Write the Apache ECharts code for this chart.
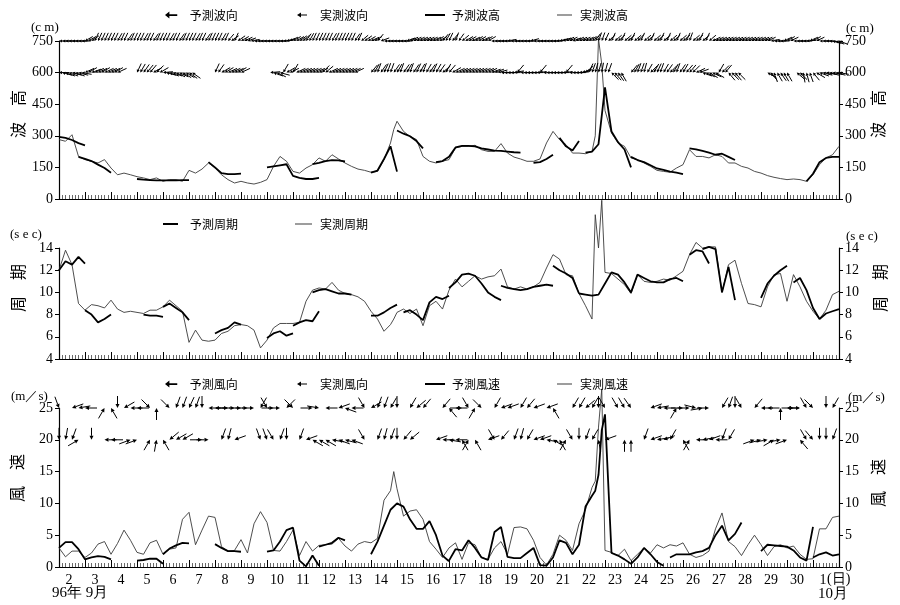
<!DOCTYPE html>
<html><head><meta charset="utf-8">
<script src="https://cdn.jsdelivr.net/npm/echarts/dist/echarts.min.js"></script>
<style>html,body{margin:0;background:#fff}#c{width:900px;height:605px}</style>
</head><body><div id="c"></div>
<script>
// ---- time grid (days since Sept 2 00:00), 6-hourly with a few extra points at sharp peaks
const obsDays = [];
for (let i = 0; i <= 120; i++) {
  const d = i / 4;
  obsDays.push(d);
  if (d === 12.75) obsDays.push(12.875);
  if (d === 20.5) obsDays.push(20.625);
  if (d === 20.75) obsDays.push(20.875);
}
const dayLabels = ['2','3','4','5','6','7','8','9','10','11','12','13','14','15','16','17','18','19','20','21','22','23','24','25','26','27','28','29','30','1'];

// ---- observed wave height (cm)
const waveObs = [
 282,274,305,202, 187,179,171,187, 147,115,123,115, 106,100,92,100, 84,92,92,84,
 136,123,142,171, 147,115,92,76, 84,76,71,79, 92,155,202,179, 131,123,147,163,
 195,179,210,190, 171,155,142,136, 127,131,187,266,330, 369,321,297,282, 202,179,171,179,
 187,242,250,250, 255,234,226,226, 263,218,199,190, 179,179,190,266, 321,282,258,218,
 218,215,225,300,760,640, 420,313,266,250, 195,187,171,155, 136,131,127,147, 163,234,202,202,
 195,210,202,171, 171,155,147,131, 123,111,103,97, 92,95,92,84, 115,163,195,210, 250
];
// ---- observed period (sec)
const periodObs = [
 12.0,13.8,12.5,9.0, 8.4,8.9,8.8,8.6, 9.3,8.5,8.2,8.3, 8.2,8.1,8.4,8.4, 8.7,9.3,8.8,8.3,
 5.5,6.6,5.7,5.6, 5.7,6.3,6.5,7.0, 7.1,7.0,6.6,5.0, 5.7,6.8,7.2,7.2, 7.2,7.3,9.2,10.2,
 10.4,10.3,10.9,10.2, 9.9,9.8,9.6,9.2, 8.3,7.6,6.5,7.1,7.6, 8.2,8.5,8.1,8.5, 7.0,8.8,9.2,8.5,
 10.2,11.2,10.5,11.0, 11.5,11.2,11.4,11.5, 12.1,10.5,10.3,10.5, 10.3,10.5,10.9,12.2, 13.4,13.0,11.6,11.5,
 9.9,8.8,7.6,17.0,14.0,18.3, 11.8,11.7,11.2,10.7, 9.9,11.6,11.0,10.9, 11.0,11.2,11.1,11.5, 11.9,13.4,14.5,14.0,
 14.1,14.1,10.0,12.5, 12.9,10.8,9.0,8.9, 8.7,10.5,11.6,11.7, 9.2,11.6,10.5,9.2, 8.3,7.6,8.4,9.8, 10.1
];
// ---- observed wind speed (m/s)
const windObs = [
 3.0,1.6,2.5,2.5, 1.5,2.2,3.6,4.0, 2.0,3.7,5.8,4.2, 2.3,2.0,3.8,4.2, 2.0,2.8,3.0,7.5,
 8.6,3.5,5.8,8.0, 7.8,3.2,2.5,2.6, 4.3,2.2,6.8,8.7, 7.0,2.6,2.5,4.0, 5.8,1.8,4.0,2.5,
 3.4,3.5,3.6,4.5, 3.3,2.5,3.6,4.0, 3.8,4.5,10.5,12.0,15.0, 12.3,8.0,8.8,9.0, 7.5,4.0,2.8,1.5,
 3.0,3.8,1.2,3.8, 3.5,1.5,1.2,3.0, 4.0,2.0,6.2,6.3, 6.0,4.2,1.5,0.3, 2.0,5.0,4.2,2.6,
 6.8,9.0,12.5,13.5,22.0,28.0, 2.6,2.3,1.8,2.8, 1.0,2.0,3.0,2.2, 3.5,3.0,3.5,3.3, 3.8,2.0,1.5,1.8,
 2.5,6.0,8.5,4.0, 3.2,1.8,3.5,5.0, 3.5,1.8,3.2,3.5, 3.0,3.3,2.0,1.2, 1.3,6.0,6.0,7.8, 8.0
];

// ---- forecast runs: start day, values every 6 h (st = other step)
const waveFcst = [
 {s:0, v:[295,290,280,265,255]},
 {s:0.75, v:[200,190,180,163,147,125]},
 {s:3.0, v:[95,92,90,88,88,88,88,90,90]},
 {s:5.75, v:[175,150,123,118,118,120]},
 {s:8.0, v:[150,155,160,165,110,100,95,95,100]},
 {s:9.75, v:[165,172,180,185,183,178]},
 {s:12.0, v:[125,135,190,250,130]},
 {s:13.0, v:[325,310,298,275,240]},
 {s:14.5, v:[175,180,200,245,252,252,250,240,235,230,228,225,222,220]},
 {s:18.25, v:[172,175,190,210]},
 {s:19.25, v:[290,250,230,275]},
 {s:20.25, v:[220,225,260,530,320,270,235,150]},
 {s:22.0, v:[200,185,175,160,145,138,130,125,118]},
 {s:24.25, v:[240,236,228,220,210,215,200,185]},
 {s:28.75, v:[84,120,175,195,200,200]}
];
const periodFcst = [
 {s:0, v:[12.0,12.8,12.5,13.2,12.6]},
 {s:1.0, v:[8.4,8.0,7.3,7.6,8.0]},
 {s:3.25, v:[8.0,7.9,7.9,7.8]},
 {s:4.0, v:[8.7,9.0,8.6,8.2,7.5]},
 {s:6.0, v:[6.3,6.6,6.8,7.3,7.1]},
 {s:8.0, v:[5.9,6.3,6.5,6.1,6.3]},
 {s:9.0, v:[7.0,7.3,7.5,7.4,8.3]},
 {s:9.75, v:[10.0,10.2,10.3,10.1,9.9,9.9,9.8]},
 {s:12.0, v:[7.9,7.9,8.2,8.6,8.9]},
 {s:13.25, v:[8.2,8.4,8.0,7.5,9.1,9.6,9.4,9.7]},
 {s:15.0, v:[10.4,10.9,11.6,11.7,11.5,10.8,10.0,9.6,9.3]},
 {s:17.0, v:[10.6,10.4,10.3,10.2,10.3,10.5,10.6,10.7,10.6]},
 {s:19.0, v:[12.4,12.0,11.7,11.3,9.9]},
 {s:20.0, v:[9.9,9.8,9.7,9.8,10.8,11.8,11.6,10.9,10.0,11.6,11.3,11.0,10.9,10.9,11.2,11.3,11.0]},
 {s:24.25, v:[13.4,13.8,13.7,12.6]},
 {s:24.75, v:[13.9,14.1,13.9,10.0,12.3,9.3]},
 {s:27.0, v:[9.5,10.8,11.5,12.0,12.4]},
 {s:28.25, v:[10.9,11.3,10.2,8.6,7.6,8.1,8.3,8.5]}
];
const windFcst = [
 {s:0, v:[3.0,3.9,3.9,2.8,1.2,1.5,1.7,1.6,1.2]},
 {s:3.0, v:[1.0,1.1,1.3,1.3,0.5]},
 {s:4.0, v:[2.0,2.9,3.4,3.8,3.7]},
 {s:6.0, v:[3.6,3.0,2.5,2.5,2.4]},
 {s:8.0, v:[2.4,2.6,4.0,5.8,6.2,1.0,0.1,1.8,0.2]},
 {s:10.0, v:[3.2,3.5,3.8,4.6,4.2]},
 {s:12.0, v:[2.0,4.0,6.5,9.0,10.0,9.5,7.5,6.0,6.0,7.2,5.0,1.8,0.9]},
 {s:15.0, v:[1.0,2.8,2.6,4.2,3.0,1.5,1.1,5.5,6.3,1.6,1.4,1.4,2.2,3.0,0.3,0.2,1.5,4.2,3.8,2.0,3.5,9.5,11.2]},
 {s:20.5, st:0.125, v:[11.2,12.0,14.5,21.5,24.0]},
 {s:21.0, v:[24.0,2.2,1.8,1.2,0.5,1.5,3.0,2.0,0.8,0.2]},
 {s:23.5, v:[1.5,2.0,2.0,2.0,2.3,2.5,3.0,5.0,6.5,4.2,5.2,7.0]},
 {s:27.0, v:[2.5,3.5,3.4,3.3,3.2,2.6,1.5,1.0,6.3]},
 {s:29.0, v:[1.5,2.0,2.3,1.8,2.0]}
];

// ---- direction arrows: direction the arrow points (deg, 0 = right, CCW), null = none
// wave directions every 3 h
const waveDirObs = [
 180,180,180,180,180,180,180,180, 210,210,215,245,245,245,245,245,
 245,245,240,245,245,235,245,245, 245,245,240,245,245,235,245,245,
 245,245,240,245,245,235,245,245, 245,245,240,245,245,235,245,245,
 245,245,240,245,230,215,245,215, 210,205,200,190,180,180,180,180,
 180,180,180,180,180,185,195,205, 210,210,215,220,235,240,245,245,
 245,245,245,245,240,245,245,245, 245,245,245,235,245,220,215,210,
 205,210,230,200,180,180,180,180, 180,180,180,200,205,205,205,205,
 205,205,205,205,210,210,230,240, 245,230,250,235,220,210,210,205,
 210,210,205,210,210,180,180,180, 180,180,190,180,180,180,180,180,
 180,195,180,180,180,180,180,180, 180,185,195,200,205,205,200,205,
 205,205,205,210,215,235,250,250, 245,220,245,220,220,245,220,220,
 245,220,225,245,220,220,245,220, 220,245,220,245,220,220,245,220,
 220,245,250,220,220,245,220,245, 220,205,205,205,205,205,205,205,
 205,205,205,205,205,205,205,205, 205,205,205,190,180,180,180,205,
 210,205,180,180,180,180,185,205, 210,205,180,180,180,175,165,160, 160
];
const waveDirFcst = [
 180,165,160,160,165,160,165,170, 205,210,200,205,205,210,205,205,
 205,210,205,null,null,null,null,null, 245,240,235,230,230,210,225,210,
 185,165,160,160,155,155,150,150, 145,145,null,null,null,null,null,null,
 245,235,210,210,205,205,205,210, 205,null,null,null,null,null,null,null,
 null,185,160,155,165,240,210,205, 240,205,205,205,205,205,205,205,
 205,225,220,205,205,205,205,205, 205,205,205,205,null,null,null,null,
 230,240,250,235,245,250,250,235, 240,250,235,240,250,235,245,240,
 250,240,235,245,240,235,220,240, 230,210,205,205,205,205,205,205,
 205,205,205,205,205,200,200,195, 180,180,180,180,190,230,180,180,
 180,180,180,185,230,180,180,180, 180,180,180,185,230,180,180,180,
 185,200,220,245,250,255,255,260, 255,250,135,130,125,120,null,null,
 230,240,250,250,255,240,225,240, 245,250,240,235,225,240,250,235,
 240,230,230,225,205,200,160,155, 150,155,150,240,225,230,130,135,
 130,135,null,null,null,null,null,null, null,null,150,130,110,120,125,120,
 120,null,null,140,135,100,105,110, 130,150,160,165,170,165,170,165, 170
];
// wind directions every 6 h
const windDirObs = [
 290,null,200,190, 180,null,null,60, 120,270,210,180, 180,null,315,90, null,315,250,250,
 245,250,270,180, 180,null,0,0, 0,0,0,240, 300,0,0,225, 315,null,null,0,
 350,180,null,200, 160,180,null,300, 210,250,250,240, 270,null,240,220, 230,null,null,230,
 130,180,0,300, 60,315,null,240, 200,200,null,240, 230,200,null,200, 120,null,null,240,
 240,220,240,270, 300,null,300,300, 305,null,null,200, 190,180,null,60, 0,0,345,10,
 0,null,240,250, 270,300,null,230, 180,180,null,90, 180,0,0,300, 315,null,270,240, null
];
const windDirFcst = [
 270,260,250,30, null,270,null,180, 180,null,null,20, 20,null,60,80, 120,220,210,210,
 null,null,0,0, null,250,255,200, null,null,null,290, 290,300,250,270, null,250,200,150,
 150,150,170,160, 165,160,null,300, null,250,255,250, 270,230,220,null, null,null,200,180,
 170,180,120,60, 120,null,200,300, 230,null,250,255, 240,200,200,170, 150,120,60,300,
 270,250,240,100, 200,null,null,90, 90,null,250,200, 190,200,240,null, 120,60,180,190,
 200,180,250,240, null,null,null,20, 15,10,30,10, 20,null,130,300, 310,270,270,250, null
];

// ---- helpers
function obsData(vals) { return obsDays.map((d, i) => [d, vals[i]]); }
function fcstData(segs) {
  const out = [];
  segs.forEach(s => {
    const st = s.st || 0.25;
    s.v.forEach((v, i) => out.push([s.s + i * st, v]));
    out.push([s.s + (s.v.length - 1) * st, '-']);
  });
  return out;
}
function dirData(dirs, step) {
  const out = [];
  dirs.forEach((a, i) => { if (a !== null) out.push([i * step, a]); });
  return out;
}
function lineSeries(name, gi, data, w, color) {
  return {type: 'line', name, xAxisIndex: gi, yAxisIndex: gi * 2, data, showSymbol: false, symbol: 'none',
    connectNulls: false, clip: false, lineStyle: {width: w, color}, itemStyle: {color}, z: w > 1.2 ? 3 : 2};
}
function arrowSeries(name, gi, data, level, L, H, W) {
  return {type: 'custom', name, xAxisIndex: gi, yAxisIndex: gi * 2, data, clip: false,
    itemStyle: {color: '#000'}, z: 4,
    renderItem: function (params, api) {
      const p = api.coord([api.value(0), level]);
      const a = api.value(1) * Math.PI / 180;
      const ux = Math.cos(a), uy = -Math.sin(a);
      const tail = [p[0] - L * ux, p[1] - L * uy];
      const base = [p[0] - H * ux, p[1] - H * uy];
      const nx = -uy, ny = ux;
      return {type: 'group', children: [
        {type: 'line', shape: {x1: tail[0], y1: tail[1], x2: base[0], y2: base[1]}, style: {stroke: '#000', lineWidth: 1}},
        {type: 'polygon', shape: {points: [p, [base[0] + W * nx, base[1] + W * ny], [base[0] - W * nx, base[1] - W * ny]]}, style: {fill: '#000'}}
      ]};
    }
  };
}
const serif = '"Liberation Serif", "DejaVu Serif", serif';
const jp = '"Noto Sans CJK JP", sans-serif';
function timeAxis(gi) {
  return {type: 'value', gridIndex: gi, min: 0, max: 30, interval: 1, position: 'bottom',
    axisLine: {show: true, onZero: false, lineStyle: {color: '#000', width: 1.2}},
    axisTick: {show: true, inside: true, length: 7, lineStyle: {color: '#000', width: 1}},
    minorTick: {show: true, splitNumber: 8, length: 4, lineStyle: {color: '#444', width: 0.8}},
    axisLabel: {show: false}, splitLine: {show: false}, minorSplitLine: {show: false}};
}
function yAx(gi, pos, min, max, iv) {
  return {type: 'value', gridIndex: gi, position: pos, min, max, interval: iv,
    axisLine: {show: true, onZero: false, lineStyle: {color: '#000', width: 1.2}},
    axisTick: {show: true, length: 4, lineStyle: {color: '#000'}},
    axisLabel: {color: '#000', fontFamily: serif, fontSize: 14, margin: 6},
    splitLine: {show: false}};
}
function lg(name, left, top, icon, w, h, pad) {
  return {data: [{name, icon}], left, top, itemWidth: w, itemHeight: h, selectedMode: false, padding: 0,
    textStyle: {fontSize: 12, color: '#000', fontFamily: jp, padding: [0, 0, 0, pad]}};
}
const arrowIconBig = 'path://M0,4L5,0L5,3L14,3L14,5L5,5L5,8Z';
const arrowIconSmall = 'path://M0,3L4,0.5L4,2.5L10,2.5L10,3.5L4,3.5L4,5.5Z';

function vText(x, y, text) {
  return {type: 'text', x, y, rotation: Math.PI / 2,
    style: {text, font: '16px ' + jp, fill: '#000', align: 'center', verticalAlign: 'middle'}};
}
function hText(x, y, text, font) {
  return {type: 'text', x, y, style: {text, font, fill: '#000', align: 'left', verticalAlign: 'middle'}};
}

const chart = echarts.init(document.getElementById('c'));
chart.setOption({
  animation: false,
  backgroundColor: '#fff',
  grid: [
    {left: 59, right: 61, top: 41, height: 158},
    {left: 59, right: 61, top: 248, height: 111},
    {left: 59, right: 61, top: 408, height: 159}
  ],
  xAxis: [timeAxis(0), timeAxis(1), timeAxis(2),
    {type: 'category', gridIndex: 2, position: 'bottom', data: dayLabels, boundaryGap: true,
     axisLine: {show: false}, axisTick: {show: false}, splitLine: {show: false},
     axisLabel: {interval: 0, color: '#000', fontFamily: serif, fontSize: 14, margin: 6, padding: [0, 6, 0, 0]}}
  ],
  yAxis: [
    yAx(0, 'left', 0, 750, 150), yAx(0, 'right', 0, 750, 150),
    yAx(1, 'left', 4, 14, 2), yAx(1, 'right', 4, 14, 2),
    yAx(2, 'left', 0, 25, 5), yAx(2, 'right', 0, 25, 5)
  ],
  legend: [
    lg('予測波向', 165, 9, arrowIconBig, 13, 7, 7),
    lg('実測波向', 297, 9, arrowIconSmall, 10, 5, 8),
    lg('予測波高', 425, 9, 'rect', 20, 2, 2),
    lg('実測波高', 557, 9, 'rect', 15, 1, 3),
    lg('予測周期', 163, 218, 'rect', 15, 2, 7),
    lg('実測周期', 295, 218, 'rect', 17, 1, 3),
    lg('予測風向', 165, 378, arrowIconBig, 13, 7, 7),
    lg('実測風向', 297, 378, arrowIconSmall, 10, 5, 8),
    lg('予測風速', 425, 378, 'rect', 20, 2, 2),
    lg('実測風速', 557, 378, 'rect', 15, 1, 3)
  ],
  graphic: [
    hText(31, 28, '(c m)', '13px ' + serif),
    hText(846, 29, '(c m)', '13px ' + serif),
    vText(18, 114, '波　高'), vText(878, 114, '波　高'),
    hText(10, 235, '(s e c)', '13px ' + serif),
    hText(846, 237, '(s e c)', '13px ' + serif),
    vText(18, 288, '周　期'), vText(880, 288, '周　期'),
    hText(11, 397, '(m／s)', '13px ' + serif),
    hText(848, 398, '(m／s)', '13px ' + serif),
    vText(17, 478, '風　速'), vText(878, 483, '風　速'),
    hText(52, 593, '96年 9月', '15px ' + serif),
    hText(827, 579, '(日)', '14px ' + serif),
    hText(818, 594, '10月', '15px ' + serif)
  ],
  series: [
    lineSeries('実測波高', 0, obsData(waveObs), 0.9, '#3a3a3a'),
    lineSeries('予測波高', 0, fcstData(waveFcst), 1.8, '#000'),
    arrowSeries('実測波向', 0, dirData(waveDirObs, 0.125), 750, 9, 3, 1.5),
    arrowSeries('予測波向', 0, dirData(waveDirFcst, 0.125), 600, 10, 3, 1.6),
    lineSeries('実測周期', 1, obsData(periodObs), 0.9, '#3a3a3a'),
    lineSeries('予測周期', 1, fcstData(periodFcst), 1.8, '#000'),
    lineSeries('実測風速', 2, obsData(windObs), 0.9, '#3a3a3a'),
    lineSeries('予測風速', 2, fcstData(windFcst), 1.8, '#000'),
    arrowSeries('実測風向', 2, dirData(windDirObs, 0.25), 25, 12, 4, 2),
    arrowSeries('予測風向', 2, dirData(windDirFcst, 0.25), 20, 12, 4, 2)
  ]
});
</script></body></html>
